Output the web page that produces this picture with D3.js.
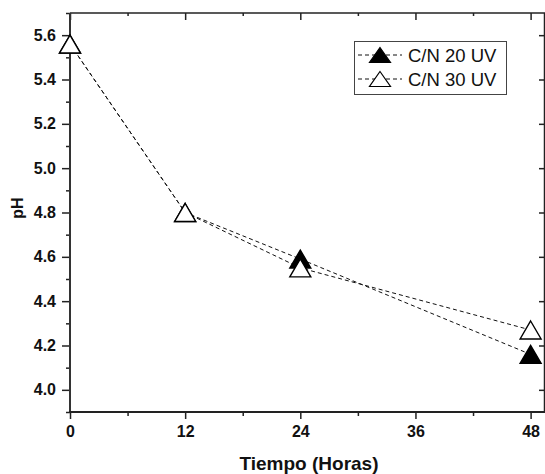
<!DOCTYPE html>
<html><head><meta charset="utf-8">
<script src="https://cdn.jsdelivr.net/npm/d3@7"></script>
<style>body{margin:0;background:#fff}svg{display:block}</style>
</head><body>
<svg id="c" width="545" height="474"></svg>
<script>
const hours = [0, 12, 24, 48];
const cn20uv = [5.56, 4.80, 4.59, 4.16];
const cn30uv = [5.56, 4.80, 4.55, 4.27];
const seriesNames = ["C/N 20 UV", "C/N 30 UV"];
const xTicks = [0, 12, 24, 36, 48];
const xMinor = [6, 18, 30, 42];
const yTicks = [4.0, 4.2, 4.4, 4.6, 4.8, 5.0, 5.2, 5.4, 5.6];
const yMinor = [3.9, 4.1, 4.3, 4.5, 4.7, 4.9, 5.1, 5.3, 5.5, 5.7];

const svg = d3.select("#c");
const L = 70, R = 545, T = 13, B = 412;
const x = d3.scaleLinear().domain([0, 49.5]).range([L, R]);
const y = d3.scaleLinear().domain([3.9, 5.7]).range([B, T]);
const font = "'Liberation Sans', Arial, sans-serif";
const axisCol = "#222";

// frame
svg.append("line").attr("x1", L).attr("x2", R).attr("y1", T).attr("y2", T).attr("stroke", axisCol).attr("stroke-width", 1.5);
svg.append("line").attr("x1", R - 0.5).attr("x2", R - 0.5).attr("y1", T).attr("y2", B).attr("stroke", axisCol).attr("stroke-width", 1.5);

// bottom axis (outward)
const xb = svg.append("g").attr("transform", `translate(0,${B})`)
  .call(d3.axisBottom(x).tickValues(xTicks).tickSize(7).tickSizeOuter(0).tickPadding(7).tickFormat(d3.format("d")));
xb.select(".domain").remove();
xb.selectAll(".tick line").attr("stroke", axisCol).attr("stroke-width", 1.5);
xb.selectAll("text").attr("font-family", font).attr("font-weight", "bold").attr("font-size", 16).attr("fill", "#111");
svg.append("g").attr("transform", `translate(0,${B})`)
  .call(d3.axisBottom(x).tickValues(xMinor).tickSize(4).tickSizeOuter(0).tickFormat(""))
  .call(g => { g.select(".domain").remove(); g.selectAll(".tick line").attr("stroke", axisCol).attr("stroke-width", 1.5); });

// top axis ticks (inward)
svg.append("g").attr("transform", `translate(0,${T})`)
  .call(d3.axisBottom(x).tickValues(xTicks).tickSize(7).tickSizeOuter(0).tickFormat(""))
  .call(g => { g.select(".domain").remove(); g.selectAll(".tick line").attr("stroke", axisCol).attr("stroke-width", 1.5); });
svg.append("g").attr("transform", `translate(0,${T})`)
  .call(d3.axisBottom(x).tickValues(xMinor).tickSize(3).tickSizeOuter(0).tickFormat(""))
  .call(g => { g.select(".domain").remove(); g.selectAll(".tick line").attr("stroke", axisCol).attr("stroke-width", 1.5); });

// left axis (outward)
const yl = svg.append("g").attr("transform", `translate(${L},0)`)
  .call(d3.axisLeft(y).tickValues(yTicks).tickSize(8).tickSizeOuter(0).tickPadding(6).tickFormat(d3.format(".1f")));
yl.select(".domain").remove();
yl.selectAll(".tick line").attr("stroke", axisCol).attr("stroke-width", 1.5);
yl.selectAll("text").attr("font-family", font).attr("font-weight", "bold").attr("font-size", 16).attr("fill", "#111");
svg.append("g").attr("transform", `translate(${L},0)`)
  .call(d3.axisLeft(y).tickValues(yMinor).tickSize(4).tickSizeOuter(0).tickFormat(""))
  .call(g => { g.select(".domain").remove(); g.selectAll(".tick line").attr("stroke", axisCol).attr("stroke-width", 1.5); });

// right axis ticks (inward)
svg.append("g").attr("transform", `translate(${R},0)`)
  .call(d3.axisRight(y).tickValues(yTicks).tickSize(-6).tickSizeOuter(0).tickFormat(""))
  .call(g => { g.select(".domain").remove(); g.selectAll(".tick line").attr("stroke", axisCol).attr("stroke-width", 1.5); });

// axis lines left & bottom (thicker)
svg.append("line").attr("x1", L).attr("x2", L).attr("y1", T).attr("y2", B + 1).attr("stroke", "#333").attr("stroke-width", 2);
svg.append("line").attr("x1", L - 1).attr("x2", R).attr("y1", B).attr("y2", B).attr("stroke", axisCol).attr("stroke-width", 2);

// axis titles
svg.append("text").attr("x", 309).attr("y", 470).attr("text-anchor", "middle")
  .attr("font-family", font).attr("font-weight", "bold").attr("font-size", 19).attr("fill", "#111").text("Tiempo (Horas)");
svg.append("text").attr("transform", "translate(23,208) rotate(-90)").attr("text-anchor", "middle")
  .attr("font-family", font).attr("font-weight", "bold").attr("font-size", 16).attr("fill", "#111").text("pH");

// lines
const series = [
  { name: seriesNames[0], vals: cn20uv, fill: "#000" },
  { name: seriesNames[1], vals: cn30uv, fill: "#fff" }
];
const line = d3.line().x(d => x(d[0])).y(d => y(d[1]));
series.forEach(s => {
  svg.append("path").attr("d", line(hours.map((h, i) => [h, s.vals[i]])))
    .attr("fill", "none").attr("stroke", "#111").attr("stroke-width", 1).attr("stroke-dasharray", "4,3");
});

// triangles
const tri = (w, h) => `M0,${-h / 2}L${w / 2},${h / 2}L${-w / 2},${h / 2}Z`;
series.forEach(s => {
  svg.append("g").selectAll("path").data(hours.map((h, i) => [h, s.vals[i]])).join("path")
    .attr("transform", d => `translate(${x(d[0])},${y(d[1])})`)
    .attr("d", tri(21, 18)).attr("fill", s.fill).attr("stroke", "#000").attr("stroke-width", 1.4)
    .attr("stroke-linejoin", "miter");
});

// legend
const lg = svg.append("g");
lg.append("rect").attr("x", 354.5).attr("y", 41.5).attr("width", 152).attr("height", 53)
  .attr("fill", "#fff").attr("stroke", "#444").attr("stroke-width", 1);
series.forEach((s, i) => {
  const cy = 55 + i * 24;
  lg.append("line").attr("x1", 358).attr("x2", 402).attr("y1", cy).attr("y2", cy)
    .attr("stroke", "#111").attr("stroke-width", 1).attr("stroke-dasharray", "4,3");
  lg.append("path").attr("transform", `translate(380,${cy})`).attr("d", tri(21, 15))
    .attr("fill", s.fill).attr("stroke", "#000").attr("stroke-width", 1.2);
  lg.append("text").attr("x", 408).attr("y", cy + 7).attr("font-family", font).attr("font-size", 18.5)
    .attr("fill", "#111").text(s.name);
});
</script>
</body></html>
